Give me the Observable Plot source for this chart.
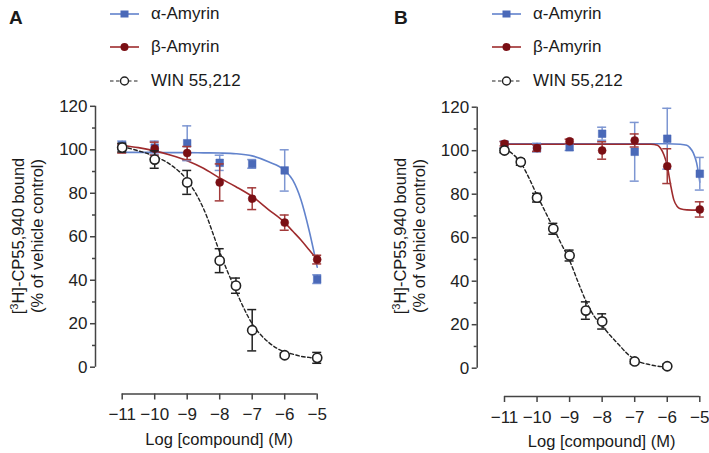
<!DOCTYPE html>
<html><head><meta charset="utf-8">
<script src="https://cdn.jsdelivr.net/npm/d3@7"></script>
<script src="https://cdn.jsdelivr.net/npm/@observablehq/plot@0.6"></script>
<style>
body{margin:0;background:#fff;font-family:"Liberation Sans",Arial,Helvetica,sans-serif;color:#1a1a1a;}
#wrap{position:relative;width:709px;height:453px;overflow:hidden;}
.panel{position:absolute;top:0;height:453px;}
.panel svg{position:absolute;left:0;top:0;}
.abs{position:absolute;white-space:nowrap;}
.letter{font-weight:bold;font-size:19px;}
.leg{font-size:17px;line-height:20px;display:flex;align-items:center;}
.leg svg{position:static !important;margin-right:12px;}
.xlab{font-size:16.5px;text-align:center;}
.ylab{font-size:16.5px;line-height:19px;text-align:center;transform:rotate(-90deg);}
</style></head><body><div id="wrap"></div>
<script>
// ---- data ----
const xTicks = [-11, -10, -9, -8, -7, -6, -5];
const yTicks = [0, 20, 40, 60, 80, 100, 120];
const yMinorTicks = [10, 30, 50, 70, 90, 110];
const seriesNames = ["α-Amyrin", "β-Amyrin", "WIN 55,212"];
const xLabel = "Log [compound] (M)";

// Panel A
const dosesA = [-11, -10, -9, -8, -7, -6, -5];
const alphaA = [102, 101, 103, 94, 93.5, 90.5, 40.5];
const alphaAErr = [2, 3, 8, 3.5, 2, 9.5, 2];
const betaA = [100.5, 100.5, 98.5, 85, 77.5, 66.5, 49.5];
const betaAErr = [2, 3, 3, 8.5, 5, 3.5, 2];
const winDosesA = [-11, -10, -9, -8, -7.5, -7, -6, -5];
const winA = [101, 95.5, 85, 49, 37.5, 17, 5.5, 4.3];
const winAErr = [2, 4, 5.5, 5.5, 3.5, 9.5, 1, 2.5];
// fitted curves, panel A
const fitXA = [-11, -10.5, -10, -9.5, -9, -8.5, -8, -7.5, -7, -6.5, -6, -5.75, -5.5, -5.25, -5];
const alphaFitA = [98.8, 98.8, 98.8, 98.7, 98.7, 98.6, 98.5, 98.2, 97.2, 94.5, 90.5, 86, 77, 63, 46];
const betaFitA = [102, 101, 99.5, 97.5, 95, 91.5, 87, 83, 78.5, 72.5, 66.5, 62.5, 58.5, 54, 49.5];
const winFitA = [101.5, 99.5, 97, 93, 86, 73, 53, 35, 20, 11.5, 7, 6, 5, 4.5, 4];

// Panel B
const dosesB = [-11, -10, -9, -8, -7, -6, -5];
const alphaB = [102.8, 101.4, 101.6, 107.8, 99.5, 105.5, 89.4];
const alphaBErr = [1.5, 2, 1.5, 3, 13.5, 14, 7.5];
const betaB = [103.2, 101.2, 104.3, 100.1, 104.7, 92.9, 73];
const betaBErr = [1, 1.5, 1, 4, 3, 8, 3.5];
const winDosesB = [-11, -10.5, -10, -9.5, -9, -8.5, -8, -7, -6];
const winB = [100.1, 94.8, 78.4, 64.1, 51.8, 26.5, 21.5, 3.1, 0.9];
const winBErr = [1, 1.5, 2, 2.5, 2.5, 4, 3.5, 1, 1];
// fitted curves, panel B
const alphaFitXB = [-11, -10, -9, -8, -7, -6, -5.6, -5.4, -5.3, -5.2, -5.1, -5.05, -5];
const alphaFitB = [103.2, 103.2, 103.2, 103.2, 103.2, 103.2, 103, 102.5, 101.3, 99, 94.5, 90.5, 85.5];
const betaFitXB = [-11, -10, -9, -8, -7, -6.5, -6.3, -6.2, -6.1, -6, -5.9, -5.8, -5.7, -5.6, -5.4, -5];
const betaFitB = [103, 103, 103, 103, 103, 103, 102.5, 101, 98, 93, 84.5, 77.5, 74.5, 73.3, 72.8, 72.7];
const winFitXB = [-11, -10.75, -10.5, -10.25, -10, -9.75, -9.5, -9.25, -9, -8.75, -8.5, -8.25, -8, -7.75, -7.5, -7.25, -7, -6.5, -6];
const winFitB = [101, 98.5, 94.5, 87.5, 79.5, 72, 64.5, 57, 49.5, 40, 31, 24, 19.5, 15, 11, 7, 4, 1.5, 0.5];

// ---- styles ----
const BLUE = "#4a69b8", BLUE_LINE = "#6283cc", BLUE_ERR = "#7d96d2";
const RED = "#7a0f14", RED_LINE = "#9e2b2d", RED_ERR = "#a23a3a";
const INK = "#222";
const FONT = "Liberation Sans, Arial, Helvetica, sans-serif";
const intFmt = d3.format("d");

const pts = (xs, ys, es) => xs.map((x, i) => ({x, y: ys[i], e: es ? es[i] : 0}));

function errMarks(rows, stroke) {
  return [
    Plot.ruleX(rows, {x: "x", y1: d => d.y - d.e, y2: d => d.y + d.e, stroke, strokeWidth: 1.5}),
    Plot.ruleY(rows, {x1: "x", x2: "x", y: d => d.y + d.e, stroke, strokeWidth: 1.5, insetLeft: -4.5, insetRight: -4.5}),
    Plot.ruleY(rows, {x1: "x", x2: "x", y: d => d.y - d.e, stroke, strokeWidth: 1.5, insetLeft: -4.5, insetRight: -4.5})
  ];
}

function makePanel(o) {
  const a = pts(o.doses, o.alpha, o.alphaErr);
  const b = pts(o.doses, o.beta, o.betaErr);
  const w = pts(o.winDoses, o.win, o.winErr);
  const aF = pts(o.aFX, o.aF), bF = pts(o.bFX, o.bF), wF = pts(o.wFX, o.wF);
  return Plot.plot({
    width: o.width, height: 453,
    marginLeft: o.axisLeft, marginRight: 4, marginTop: 100, marginBottom: 453 - o.xAxisY,
    style: {fontFamily: FONT, fontSize: "17px", color: INK, background: "transparent", overflow: "visible"},
    x: {domain: [-11, -5], range: [o.x0, o.x1]},
    y: {domain: [0, 120], range: [o.y0, o.y120]},
    marks: [
      Plot.axisY({ticks: yTicks, tickFormat: intFmt, tickSize: 5, tickPadding: 3, fontSize: 17, label: null, stroke: "#444", strokeWidth: 1.5}),
      Plot.axisY({ticks: yMinorTicks, tickSize: 3, text: null, label: null, stroke: "#444", strokeWidth: 1.5}),
      Plot.ruleX([-11], {y1: 0, y2: 120, dx: o.axisLeft - o.x0, stroke: "#444", strokeWidth: 1.5}),
      Plot.axisX({ticks: xTicks, tickFormat: intFmt, tickSize: 6, tickPadding: 8, fontSize: 17, label: null, stroke: "#444", strokeWidth: 1.5}),
      Plot.ruleY([0], {x1: -11, x2: -5, dy: o.xAxisY - o.y0, stroke: "#444", strokeWidth: 1.5}),
      Plot.line(aF, {x: "x", y: "y", curve: "monotone-x", stroke: BLUE_LINE, strokeWidth: 1.6}),
      Plot.line(bF, {x: "x", y: "y", curve: "monotone-x", stroke: RED_LINE, strokeWidth: 1.6}),
      Plot.line(wF, {x: "x", y: "y", curve: "monotone-x", stroke: INK, strokeWidth: 1.4, strokeDasharray: "3.5,2.5"}),
      ...errMarks(a, BLUE_ERR),
      Plot.dot(a, {x: "x", y: "y", symbol: "square", r: 4.3, fill: BLUE, stroke: BLUE, strokeWidth: 0.5}),
      ...errMarks(b, RED_ERR),
      Plot.dot(b, {x: "x", y: "y", symbol: "circle", r: 4, fill: RED, stroke: RED, strokeWidth: 0.5}),
      ...errMarks(w, INK),
      Plot.dot(w, {x: "x", y: "y", symbol: "circle", r: 4.6, fill: "white", stroke: INK, strokeWidth: 1.6})
    ]
  });
}

function swatch(kind) {
  const s = d3.create("svg").attr("width", 29).attr("height", 12);
  if (kind === 0) {
    s.append("line").attr("x1", 0).attr("x2", 29).attr("y1", 6).attr("y2", 6).attr("stroke", BLUE_LINE).attr("stroke-width", 1.6);
    s.append("rect").attr("x", 10.5).attr("y", 2.5).attr("width", 8).attr("height", 7).attr("fill", BLUE);
  } else if (kind === 1) {
    s.append("line").attr("x1", 0).attr("x2", 29).attr("y1", 6).attr("y2", 6).attr("stroke", RED_LINE).attr("stroke-width", 1.6);
    s.append("circle").attr("cx", 14.5).attr("cy", 6).attr("r", 4).attr("fill", RED);
  } else {
    s.append("line").attr("x1", 0).attr("x2", 29).attr("y1", 6).attr("y2", 6).attr("stroke", INK).attr("stroke-width", 1.2).attr("stroke-dasharray", "3.5,2.5");
    s.append("circle").attr("cx", 14.5).attr("cy", 6).attr("r", 4).attr("fill", "white").attr("stroke", INK).attr("stroke-width", 1.4);
  }
  return s.node();
}

function addPanel(wrap, o) {
  const p = document.createElement("div");
  p.className = "panel";
  p.style.left = o.left + "px";
  p.style.width = o.width + "px";
  p.appendChild(makePanel(o));
  const el = (cls, html, css) => {
    const d = document.createElement("div");
    d.className = "abs " + cls;
    if (typeof html === "string") d.innerHTML = html; else d.appendChild(html);
    Object.assign(d.style, css);
    p.appendChild(d);
    return d;
  };
  el("letter", o.letter, {left: o.letterX + "px", top: "7px"});
  seriesNames.forEach((name, i) => {
    const d = el("leg", "", {left: o.legX + "px", top: (4 + i * 33.3) + "px"});
    d.appendChild(swatch(i));
    const t = document.createElement("span");
    t.textContent = name;
    d.appendChild(t);
  });
  el("xlab", xLabel, {left: ((o.x0 + o.x1) / 2 - 100) + "px", width: "200px", top: (o.xAxisY + 36) + "px"});
  el("ylab", "[<sup style='font-size:11px;vertical-align:6px'>3</sup>H]-CP55,940 bound<br>(% of vehicle control)",
     {left: (o.axisLeft - 71 - 130) + "px", width: "260px", top: (236 - 19) + "px", height: "38px"});
  wrap.appendChild(p);
}

const wrap = document.getElementById("wrap");
addPanel(wrap, {
  letter: "A", left: 0, width: 355, letterX: 9, legX: 110,
  axisLeft: 95, x0: 121.7, x1: 316.7, y0: 366.7, y120: 105.8, xAxisY: 393.5,
  doses: dosesA, alpha: alphaA, alphaErr: alphaAErr, beta: betaA, betaErr: betaAErr,
  winDoses: winDosesA, win: winA, winErr: winAErr,
  aFX: fitXA, aF: alphaFitA, bFX: fitXA, bF: betaFitA, wFX: fitXA, wF: winFitA
});
addPanel(wrap, {
  letter: "B", left: 355, width: 354, letterX: 39, legX: 137,
  axisLeft: 121.7, x0: 149, x1: 344.3, y0: 367.7, y120: 106.7, xAxisY: 396,
  doses: dosesB, alpha: alphaB, alphaErr: alphaBErr, beta: betaB, betaErr: betaBErr,
  winDoses: winDosesB, win: winB, winErr: winBErr,
  aFX: alphaFitXB, aF: alphaFitB, bFX: betaFitXB, bF: betaFitB, wFX: winFitXB, wF: winFitB
});
</script></body></html>
